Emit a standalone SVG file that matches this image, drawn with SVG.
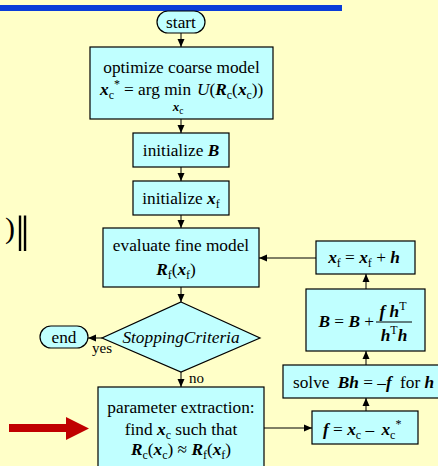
<svg xmlns="http://www.w3.org/2000/svg" width="438" height="466" viewBox="0 0 438 466" font-family="'Liberation Serif', 'DejaVu Serif', serif">
<defs>
<marker id="ah" viewBox="0 0 8 8" refX="8" refY="4" markerWidth="8" markerHeight="8" markerUnits="userSpaceOnUse" orient="auto">
<path d="M0,0.5 L8,4 L0,7.5 Z" fill="#000"/>
</marker>
<style>
text{font-family:'Liberation Serif','DejaVu Serif',serif;font-size:17.3px;fill:#000}
.box{fill:#C0FFFF;stroke:#000;stroke-width:1.2}
.v{font-weight:bold;font-style:italic}
.s{font-size:12px}
.c{stroke:#000;stroke-width:1;fill:none;marker-end:url(#ah)}
.lbl{font-size:15px}
</style>
</defs>
<rect x="0" y="0" width="438" height="466" fill="#FFFFC8"/>
<rect x="0" y="5" width="342" height="6" fill="#0A3CD8"/>
<g id="partial-formula">
<text x="5" y="238" style="font-size:30px">)</text>
<text x="15.5" y="251" style="font-size:50px">‖</text>
</g>
<g id="connectors">
<line class="c" x1="181" y1="33" x2="181" y2="47"/>
<line class="c" x1="181" y1="119" x2="181" y2="133"/>
<line class="c" x1="181" y1="167" x2="181" y2="181"/>
<line class="c" x1="181" y1="215" x2="181" y2="228"/>
<line class="c" x1="181" y1="287" x2="181" y2="302"/>
<line class="c" x1="181" y1="372" x2="181" y2="387"/>
<line class="c" x1="102" y1="338" x2="88" y2="338"/>
<line class="c" x1="264" y1="428" x2="312" y2="428"/>
<line class="c" x1="366" y1="411" x2="366" y2="398"/>
<line class="c" x1="366" y1="365" x2="366" y2="351"/>
<line class="c" x1="366" y1="289" x2="366" y2="274"/>
<line class="c" x1="316" y1="258" x2="259" y2="258"/>
<text class="lbl" x="92" y="353">yes</text>
<text class="lbl" x="189" y="383">no</text>
</g>
<g id="start">
<rect class="box" x="157" y="11" width="48" height="22" rx="11"/>
<text x="181" y="28" text-anchor="middle">start</text>
</g>
<g id="optimize">
<rect class="box" x="90" y="47" width="183" height="72"/>
<text x="181.5" y="73" text-anchor="middle">optimize coarse model</text>
<text x="100" y="95"><tspan class="v">x</tspan><tspan class="s" dy="4">c</tspan><tspan class="s" dy="-11">*</tspan></text>
<text x="124" y="95">= arg min</text>
<text x="197" y="95"><tspan font-style="italic">U</tspan>(<tspan class="v">R</tspan><tspan class="s" dy="4">c</tspan><tspan dy="-4">(</tspan><tspan class="v">x</tspan><tspan class="s" dy="4">c</tspan><tspan dy="-4">))</tspan></text>
<text x="178" y="111" text-anchor="middle" style="font-size:13px"><tspan class="v">x</tspan><tspan class="s" style="font-size:9.5px" dy="3">c</tspan></text>
</g>
<g id="initB">
<rect class="box" x="133" y="133" width="96" height="34"/>
<text x="181" y="156" text-anchor="middle">initialize <tspan class="v">B</tspan></text>
</g>
<g id="initXf">
<rect class="box" x="133" y="181" width="96" height="34"/>
<text x="181" y="204" text-anchor="middle">initialize <tspan class="v">x</tspan><tspan class="s" dy="4">f</tspan></text>
</g>
<g id="evaluate">
<rect class="box" x="103" y="228" width="156" height="59"/>
<text x="181" y="251" text-anchor="middle">evaluate fine model</text>
<text x="176" y="275" text-anchor="middle"><tspan class="v">R</tspan><tspan class="s" dy="4">f</tspan><tspan dy="-4">(</tspan><tspan class="v">x</tspan><tspan class="s" dy="4">f</tspan><tspan dy="-4">)</tspan></text>
</g>
<g id="stopping">
<polygon class="box" points="181,302 260,338 181,372 102,338"/>
<text x="181" y="343" text-anchor="middle" font-style="italic">StoppingCriteria</text>
</g>
<g id="end">
<rect class="box" x="40" y="326" width="48" height="22" rx="11"/>
<text x="64" y="343" text-anchor="middle">end</text>
</g>
<g id="extraction">
<rect class="box" x="98" y="387" width="166" height="90"/>
<text x="181" y="413" text-anchor="middle">parameter extraction:</text>
<text x="181" y="435" text-anchor="middle">find <tspan class="v">x</tspan><tspan class="s" dy="4">c</tspan><tspan dy="-4"> such that</tspan></text>
<text x="181" y="455" text-anchor="middle"><tspan class="v">R</tspan><tspan class="s" dy="4">c</tspan><tspan dy="-4">(</tspan><tspan class="v">x</tspan><tspan class="s" dy="4">c</tspan><tspan dy="-4">) ≈ </tspan><tspan class="v">R</tspan><tspan class="s" dy="4">f</tspan><tspan dy="-4">(</tspan><tspan class="v">x</tspan><tspan class="s" dy="4">f</tspan><tspan dy="-4">)</tspan></text>
</g>
<g id="updateXf">
<rect class="box" x="316" y="241" width="99" height="33"/>
<text x="364" y="263" text-anchor="middle"><tspan class="v">x</tspan><tspan class="s" dy="4">f</tspan><tspan dy="-4"> = </tspan><tspan class="v">x</tspan><tspan class="s" dy="4">f</tspan><tspan dy="-4"> + </tspan><tspan class="v">h</tspan></text>
</g>
<g id="updateB">
<rect class="box" x="306" y="289" width="119" height="62"/>
<text x="374" y="327" text-anchor="end"><tspan class="v">B</tspan> = <tspan class="v">B</tspan> +</text>
<line x1="376" y1="322" x2="412" y2="322" stroke="#000" stroke-width="1"/>
<text x="393" y="317" text-anchor="middle"><tspan class="v">f h</tspan><tspan class="s" dy="-7">T</tspan></text>
<text x="394" y="341" text-anchor="middle"><tspan class="v">h</tspan><tspan class="s" dy="-7">T</tspan><tspan class="v" dy="7">h</tspan></text>
</g>
<g id="solve">
<rect class="box" x="283" y="365" width="160" height="33"/>
<text x="293" y="388">solve <tspan dx="4" class="v">Bh</tspan> = –<tspan class="v">f</tspan><tspan dx="4"> for </tspan><tspan class="v">h</tspan></text>
</g>
<g id="fdef">
<rect class="box" x="312" y="411" width="106" height="33"/>
<text x="323" y="435"><tspan class="v">f</tspan> = <tspan class="v">x</tspan><tspan class="s" dy="4">c</tspan><tspan dy="-4"> –  </tspan><tspan class="v" dx="3">x</tspan><tspan class="s" dy="4">c</tspan><tspan class="s" dy="-11">*</tspan></text>
</g>
<g id="pointer">
<polygon points="9,424 66,424 66,417 89,428.5 66,440 66,432 9,432" fill="#C00000"/>
</g>
</svg>
